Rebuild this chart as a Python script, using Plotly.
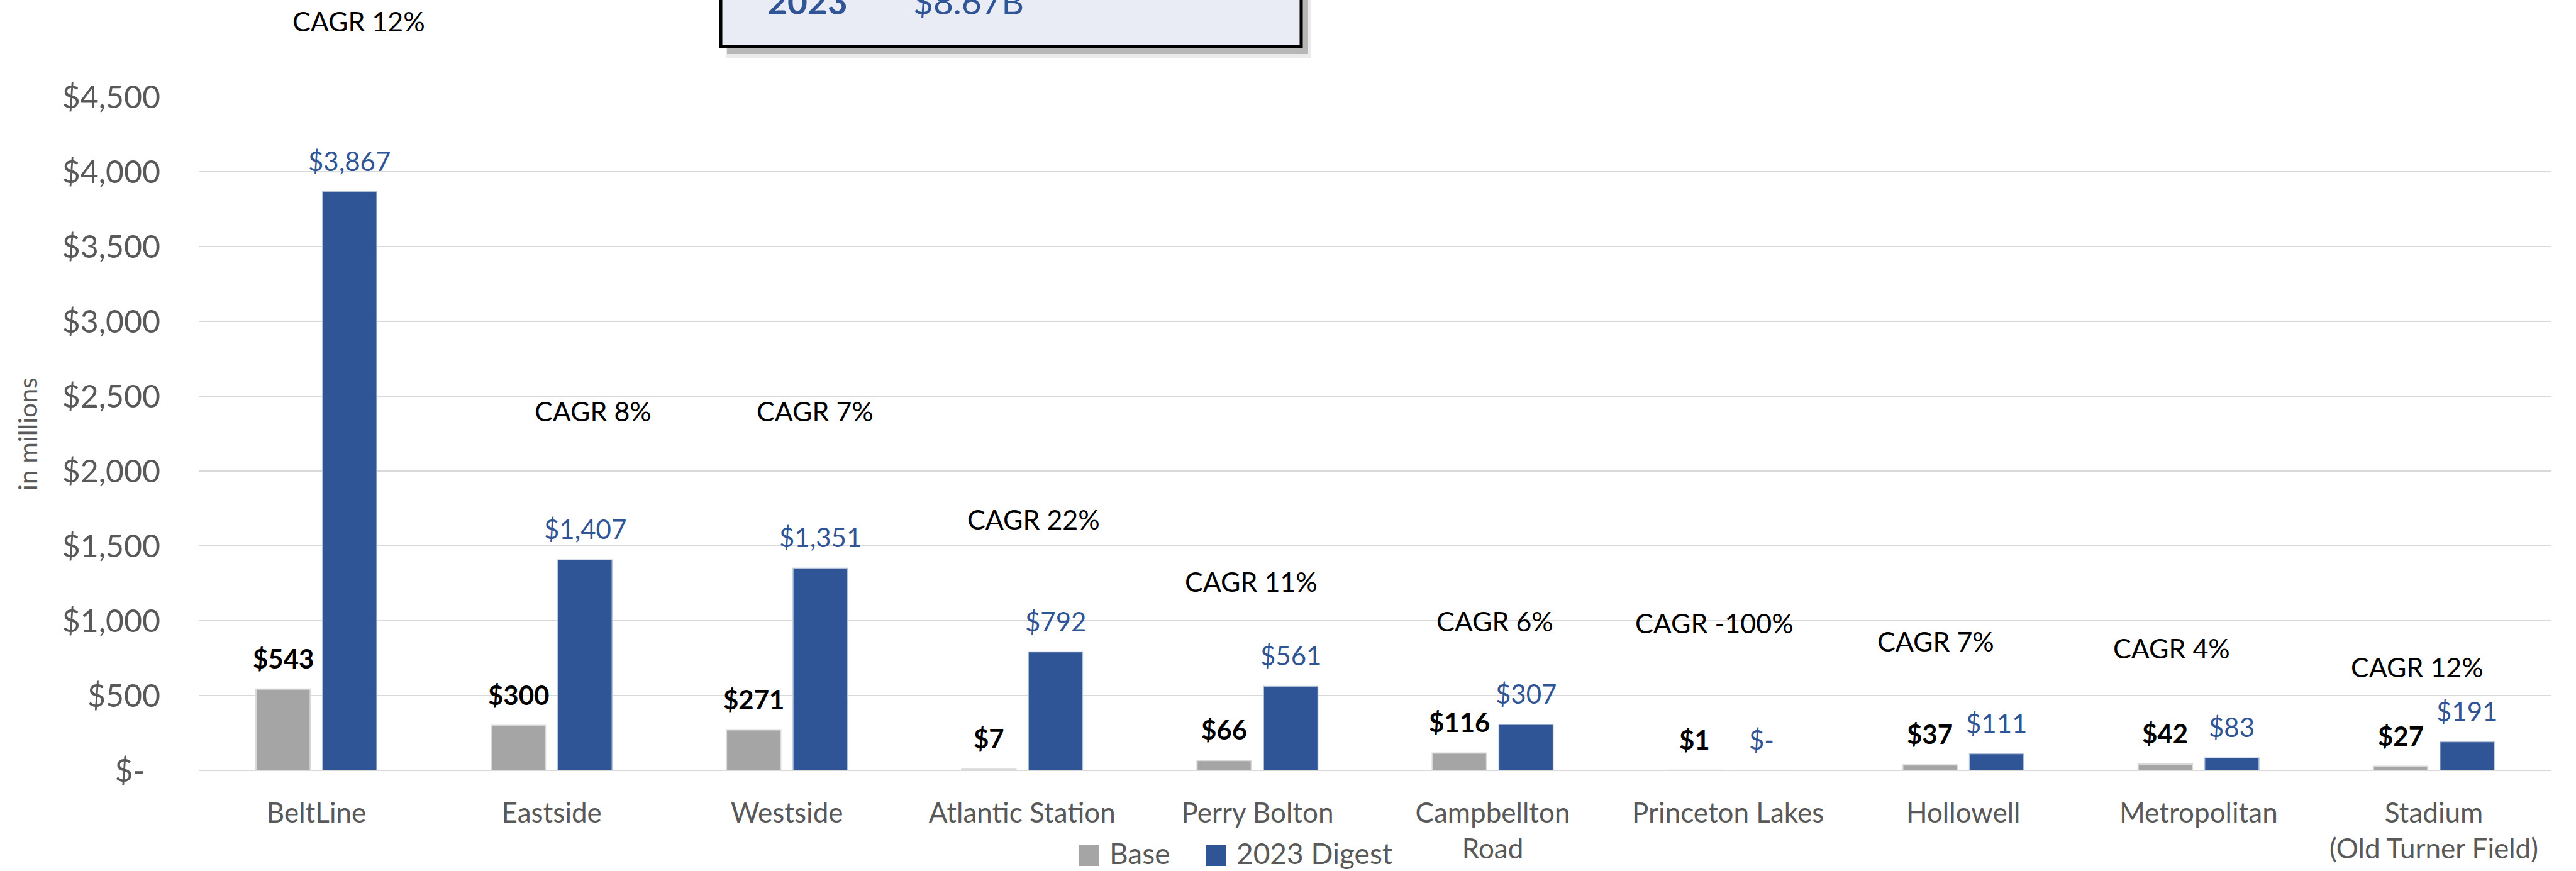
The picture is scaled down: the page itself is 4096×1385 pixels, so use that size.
import plotly.graph_objects as go

# ---------------- data ----------------
categories = ["BeltLine", "Eastside", "Westside", "Atlantic Station", "Perry Bolton",
              "Campbellton Road", "Princeton Lakes", "Hollowell", "Metropolitan",
              "Stadium (Old Turner Field)"]
category_labels = ["BeltLine", "Eastside", "Westside", "Atlantic Station", "Perry Bolton",
                   "Campbellton<br>Road", "Princeton Lakes", "Hollowell", "Metropolitan",
                   "Stadium<br>(Old Turner Field)"]
base_values = [543, 300, 271, 7, 66, 116, 1, 37, 42, 27]
digest_values = [3867, 1407, 1351, 792, 561, 307, 0, 111, 83, 191]
cagr_labels = ["CAGR 12%", "CAGR 8%", "CAGR 7%", "CAGR 22%", "CAGR 11%", "CAGR 6%",
               "CAGR -100%", "CAGR 7%", "CAGR 4%", "CAGR 12%"]
series_names = ["Base", "2023 Digest"]
y_tick_values = [0, 500, 1000, 1500, 2000, 2500, 3000, 3500, 4000, 4500]
y_tick_labels = ["$-\u2002", "$500", "$1,000", "$1,500", "$2,000", "$2,500",
                 "$3,000", "$3,500", "$4,000", "$4,500"]
y_axis_title = "in millions"
box_year = "2023"
box_total = "$8.67B"

# ---------------- layout constants (pixels) ----------------
W, H = 4096, 1385
PL, PR, PT, PB = 316, 4057, 154, 1225
FONT = "Lato, 'Open Sans', Arial, sans-serif"
GRAY_TXT = "#595959"
BASE_COL = "#A5A5A5"
DIGEST_COL = "#2F5597"

# CAGR text box placement (x offset from category centre, y pixel of text centre)
cagr_dx = [67, 66, 45, 18, -10, 3, -22, -44, -43, -26]
cagr_y = [34, 653, 653, 825, 924, 987, 990, 1019, 1030, 1060]


def px(x):
    return (x - PL) / (PR - PL)


def py(y):
    return (PB - y) / (PB - PT)


def money(v):
    return "$-" if v == 0 else "${:,}".format(v)


fig = go.Figure()
fig.add_trace(go.Bar(x=categories, y=base_values, name=series_names[0],
                     marker=dict(color=BASE_COL, line=dict(color="#D9D9D9", width=2)),
                     showlegend=False, hoverinfo="x+y"))
fig.add_trace(go.Bar(x=categories, y=digest_values, name=series_names[1],
                     marker=dict(color=DIGEST_COL, line=dict(color="#B4C0D8", width=1.5)),
                     showlegend=False, hoverinfo="x+y"))

annotations = []
slot_off = 52.9
for i, c in enumerate(categories):
    annotations.append(dict(x=c, y=base_values[i], xref="x", yref="y", text=money(base_values[i]),
                            showarrow=False, xshift=-slot_off, yshift=49, yanchor="middle",
                            font=dict(family=FONT, size=42, color="#000000", weight="bold")))
    annotations.append(dict(x=c, y=digest_values[i], xref="x", yref="y", text=money(digest_values[i]),
                            showarrow=False, xshift=slot_off, yshift=49, yanchor="middle",
                            font=dict(family=FONT, size=42, color=DIGEST_COL)))
    annotations.append(dict(x=c, y=py(cagr_y[i]), xref="x", yref="paper", text=cagr_labels[i],
                            showarrow=False, xshift=cagr_dx[i], yanchor="middle",
                            font=dict(family=FONT, size=43, color="#000000")))

# y-axis title
annotations.append(dict(x=px(43), y=py(690), xref="paper", yref="paper", text=y_axis_title,
                        textangle=-90, showarrow=False, xanchor="center", yanchor="middle",
                        font=dict(family=FONT, size=41, color=GRAY_TXT)))

# summary box (partly outside the page, as in the reference)
box_l, box_r, box_b = 1146, 2069, 74
shapes = [
    dict(type="rect", xref="paper", yref="paper", x0=px(box_l + 8), x1=px(box_r + 16),
         y0=py(-200), y1=py(box_b + 18), fillcolor="rgba(0,0,0,0.08)", line=dict(width=0), layer="above"),
    dict(type="rect", xref="paper", yref="paper", x0=px(box_l + 10), x1=px(box_r + 11),
         y0=py(-200), y1=py(box_b + 12), fillcolor="rgba(0,0,0,0.22)", line=dict(width=0), layer="above"),
    dict(type="rect", xref="paper", yref="paper", x0=px(box_l), x1=px(box_r),
         y0=py(-200), y1=py(box_b), fillcolor="#E9EBF5", line=dict(color="#000000", width=5), layer="above"),
]
annotations.append(dict(x=px(1218), y=py(2), xref="paper", yref="paper", text=box_year,
                        showarrow=False, xanchor="left", yanchor="middle",
                        font=dict(family=FONT, size=55, color=DIGEST_COL, weight="bold")))
annotations.append(dict(x=px(1450), y=py(2), xref="paper", yref="paper", text=box_total,
                        showarrow=False, xanchor="left", yanchor="middle",
                        font=dict(family=FONT, size=55, color=DIGEST_COL)))

# legend (drawn manually so the swatches match the reference size)
legend_items = [(series_names[0], BASE_COL, 1715, 1762), (series_names[1], DIGEST_COL, 1917, 1964)]
for name, col, sx, tx in legend_items:
    shapes.append(dict(type="rect", xref="paper", yref="paper", x0=px(sx), x1=px(sx + 33),
                       y0=py(1377), y1=py(1344), fillcolor=col, line=dict(width=0)))
    annotations.append(dict(x=px(tx), y=py(1356), xref="paper", yref="paper", text=name,
                            showarrow=False, xanchor="left", yanchor="middle",
                            font=dict(family=FONT, size=46, color=GRAY_TXT)))

fig.update_layout(
    width=W, height=H, autosize=False,
    margin=dict(l=PL, r=W - PR, t=PT, b=H - PB, pad=0),
    paper_bgcolor="white", plot_bgcolor="white",
    barmode="group", bargap=0.434, bargroupgap=0.185,
    showlegend=False,
    annotations=annotations, shapes=shapes,
    font=dict(family=FONT, color=GRAY_TXT),
)
fig.update_xaxes(tickvals=categories, ticktext=category_labels, showgrid=False, showline=False,
                 ticks="", zeroline=False, ticklabelstandoff=38,
                 tickfont=dict(family=FONT, size=44, color=GRAY_TXT))
fig.update_yaxes(range=[0, 4500], tickvals=y_tick_values, ticktext=y_tick_labels,
                 showgrid=True, gridcolor="#D9D9D9", gridwidth=2,
                 zeroline=True, zerolinecolor="#D9D9D9", zerolinewidth=2,
                 showline=False, ticks="", ticklabelstandoff=60,
                 tickfont=dict(family=FONT, size=50, color=GRAY_TXT))

fig.write_html("out.html", config={"displayModeBar": False},
               post_script="document.body.style.margin='0';")
